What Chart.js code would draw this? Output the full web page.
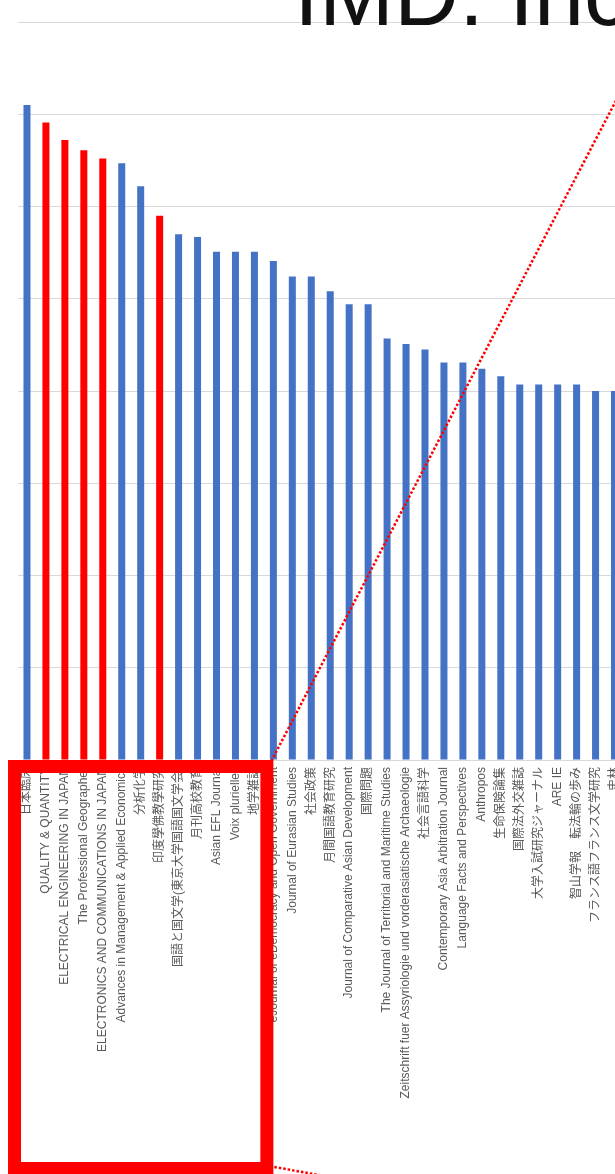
<!DOCTYPE html>
<html>
<head>
<meta charset="utf-8">
<script src="https://cdn.jsdelivr.net/npm/chart.js@4.4.1/dist/chart.umd.min.js"></script>
<style>
  html, body { margin: 0; padding: 0; background: #fff; overflow: hidden; }
  canvas { display: block; }
</style>
</head>
<body>
<canvas id="journalChart" width="640" height="1174"></canvas>
<script>
// journals ranked by score, left to right
const journals = [
  '日本臨床',
  'QUALITY & QUANTITY',
  'ELECTRICAL ENGINEERING IN JAPAN',
  'The Professional Geographer',
  'ELECTRONICS AND COMMUNICATIONS IN JAPAN',
  'Advances in Management & Applied Economics',
  '分析化学',
  '印度學佛教學研究',
  '国語と国文学(東京大学国語国文学会)',
  '月刊高校教育',
  'Asian EFL Journal',
  'Voix plurielles',
  '地学雑誌',
  'eJournal of eDemocracy and Open Government',
  'Journal of Eurasian Studies',
  '社会政策',
  '月間国語教育研究',
  'Journal of Comparative Asian Development',
  '国際問題',
  'The Journal of Territorial and Maritime Studies',
  'Zeitschrift fuer Assyriologie und vorderasiatische Archaeologie',
  '社会言語科学',
  'Contemporary Asia Arbitration Journal',
  'Language Facts and Perspectives',
  'Anthropos',
  '生命保険論集',
  '国際法外交雑誌',
  '大学入試研究ジャーナル',
  'ARE IE',
  '智山学報　転法輪の歩み',
  'フランス語フランス文学研究',
  '史林'
];
const scores = [
  71.0, 69.1, 67.2, 66.1, 65.2, 64.7, 62.2, 59.0, 57.0, 56.7,
  55.1, 55.1, 55.1, 54.1, 52.4, 52.4, 50.8, 49.4, 49.4, 45.7,
  45.1, 44.5, 43.1, 43.1, 42.4, 41.6, 40.7, 40.7, 40.7, 40.7,
  40.0, 40.0
];
const highlighted = [
  false, true, true, true, true, false, false, true, false, false,
  false, false, false, false, false, false, false, false, false, false,
  false, false, false, false, false, false, false, false, false, false,
  false, false
];
const yTicks = { min: 0, max: 80, step: 10 };
const titleText = 'IMD: Inc';

// the red callout box over the first labels, with its dotted leader lines
const calloutPlugin = {
  id: 'callout',
  afterDraw(chart) {
    const { ctx, scales: { x, y } } = chart;
    const lw = 13;
    const left = x.getPixelForValue(-1);
    const right = x.getPixelForValue(13);
    const top = y.getPixelForValue(0);
    const bottom = chart.height + 1;
    ctx.save();
    ctx.strokeStyle = '#ff0000';
    ctx.lineWidth = lw;
    ctx.strokeRect(left + lw / 2, top + lw / 2, right - left - lw, bottom - top - lw);

    ctx.lineWidth = 2.5;
    ctx.setLineDash([2.5, 2]);
    ctx.beginPath();
    ctx.moveTo(right - 2, top + 1);
    ctx.lineTo(right - 2 + top * 0.5225, 0);
    ctx.moveTo(right + 1, bottom - 8);
    ctx.lineTo(right + 201, bottom + 28);
    ctx.stroke();

    // title sits over the top gridline, mostly off the picture
    ctx.setLineDash([]);
    ctx.fillStyle = '#111';
    ctx.font = '90px "Liberation Sans", Arial, sans-serif';
    ctx.textBaseline = 'alphabetic';
    ctx.fillText(titleText, 294, 25);
    ctx.restore();
  }
};

const ctx = document.getElementById('journalChart').getContext('2d');
new Chart(ctx, {
  type: 'bar',
  data: {
    labels: journals,
    datasets: [{
      data: scores,
      backgroundColor: highlighted.map(h => h ? '#ff0000' : '#4472c4'),
      barPercentage: 0.37,
      categoryPercentage: 1
    }]
  },
  options: {
    responsive: false,
    animation: false,
    layout: { padding: { top: 22, left: 17.5, right: 16, bottom: 0 } },
    plugins: {
      legend: { display: false },
      title: { display: false },
      tooltip: { enabled: false }
    },
    scales: {
      x: {
        grid: { display: false, drawTicks: false },
        border: { display: true, color: '#d9d9d9' },
        ticks: {
          autoSkip: false,
          maxRotation: 90,
          minRotation: 90,
          padding: 7,
          color: '#595959',
          font: { family: '"Liberation Sans", "Noto Sans CJK JP", sans-serif', size: 12 }
        },
        afterFit(scale) { scale.height = 1174 - 760; }
      },
      y: {
        min: yTicks.min,
        max: yTicks.max,
        ticks: { display: false, stepSize: yTicks.step },
        grid: { color: '#d9d9d9', drawTicks: false },
        border: { display: false }
      }
    }
  },
  plugins: [calloutPlugin]
});
</script>
</body>
</html>
